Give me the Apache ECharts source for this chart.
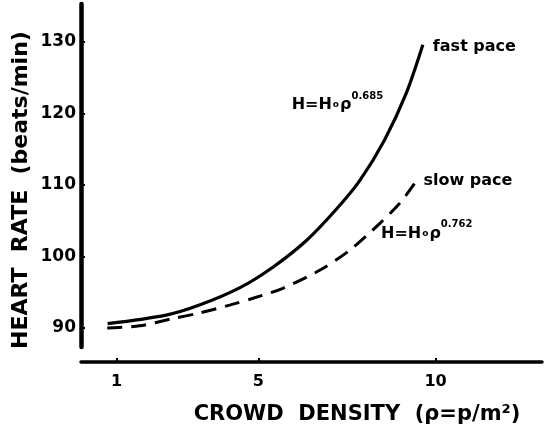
<!DOCTYPE html>
<html>
<head>
<meta charset="utf-8">
<script src="https://cdn.jsdelivr.net/npm/echarts@6/dist/echarts.min.js"></script>
<style>
  html, body { margin: 0; padding: 0; background: #fff; }
  #chart { width: 544px; height: 426px; }
</style>
</head>
<body>
<div id="chart"></div>
<script>
// Heart rate vs. crowd density, two walking paces
const fastDensity = [0.75, 2.4, 3.34, 4.47, 5.41, 6.35, 7.2, 7.86, 8.56, 9.17, 9.64];
const fastRate    = [90.6, 91.8, 93.2, 95.6, 98.5, 102.2, 106.6, 110.6, 116.3, 122.8, 129.6];
const slowDensity = [0.74, 1.65, 2.58, 3.34, 4.19, 4.85, 5.69, 6.73, 7.57, 8.42, 8.98, 9.46];
const slowRate    = [90.0, 90.3, 91.3, 92.1, 93.2, 94.15, 95.55, 98.07, 100.84, 104.6, 107.4, 110.6];
const xTicks = [1, 5, 10];
const yTicks = [90, 100, 110, 120, 130];
const seriesNames = ['fast pace', 'slow pace'];
const fastExponent = '0.685';
const slowExponent = '0.762';
const fastFormulaAt = [7.23, 121.6];
const slowFormulaAt = [9.75, 103.6];

const FONT = 'DejaVu Sans';
const pair = (xs, ys) => xs.map((x, i) => [x, ys[i]]);

const formulaRich = {
  m:   { fontFamily: FONT, fontWeight: 'bold', fontSize: 16, color: '#000', lineHeight: 22, verticalAlign: 'bottom' },
  o:   { fontFamily: FONT, fontWeight: 'bold', fontSize: 9,  color: '#000', lineHeight: 22, verticalAlign: 'bottom', padding: [0, 1, 4, 1] },
  sup: { fontFamily: FONT, fontWeight: 'bold', fontSize: 10, color: '#000', lineHeight: 22, verticalAlign: 'top' }
};
const formula = exp => '{m|H=H}{o|o}{m|ρ}{sup|' + exp + '}';

function formulaPoint(coord, exp) {
  return {
    symbol: 'circle',
    symbolSize: 1,
    silent: true,
    itemStyle: { color: 'rgba(0,0,0,0)' },
    label: { show: true, position: 'inside', formatter: formula(exp), rich: formulaRich },
    data: [{ coord: coord }]
  };
}

const chart = echarts.init(document.getElementById('chart'), null, { renderer: 'canvas' });
chart.setOption({
  backgroundColor: '#fff',
  animation: false,
  grid: { left: 81, right: 2, top: 4, bottom: 79 },
  xAxis: {
    type: 'value', min: 0, max: 13, offset: 15,
    splitLine: { show: false },
    axisLine: { show: true, lineStyle: { color: '#000', width: 3.5 } },
    axisTick: { show: true, inside: true, length: 4, customValues: xTicks, lineStyle: { color: '#000', width: 2 } },
    axisLabel: { customValues: xTicks, margin: 12, color: '#000', fontFamily: FONT, fontWeight: 'bold', fontSize: 16 }
  },
  yAxis: {
    type: 'value', min: 87.34, max: 135.31,
    splitLine: { show: false },
    axisLine: { show: true, lineStyle: { color: '#000', width: 4.5 } },
    axisTick: { show: true, inside: true, length: 4, customValues: yTicks, lineStyle: { color: '#000', width: 2 } },
    axisLabel: { customValues: yTicks, margin: 5, color: '#000', fontFamily: FONT, fontWeight: 'bold', fontSize: 17 }
  },
  graphic: [
    { type: 'text', x: 21, y: 190, rotation: Math.PI / 2,
      style: { text: 'HEART  RATE  (beats/min)', fill: '#000', font: 'bold 22px "DejaVu Sans"', textAlign: 'center', textVerticalAlign: 'middle' } },
    { type: 'text', x: 357, y: 415,
      style: { text: 'CROWD  DENSITY  (ρ=p/m²)', fill: '#000', font: 'bold 21px "DejaVu Sans"', textAlign: 'center', textVerticalAlign: 'middle' } }
  ],
  series: [
    {
      name: seriesNames[0], type: 'line', data: pair(fastDensity, fastRate),
      smooth: 0.3, symbol: 'none', lineStyle: { color: '#000', width: 3.2 },
      endLabel: { show: true, formatter: '{a}', distance: 10, offset: [0, 2], color: '#000', fontFamily: FONT, fontWeight: 'bold', fontSize: 16 },
      markPoint: formulaPoint(fastFormulaAt, fastExponent)
    },
    {
      name: seriesNames[1], type: 'line', data: pair(slowDensity, slowRate),
      smooth: 0.3, symbol: 'none', lineStyle: { color: '#000', width: 3, type: [15, 9] },
      endLabel: { show: true, formatter: '{a}', distance: 7, color: '#000', fontFamily: FONT, fontWeight: 'bold', fontSize: 16 },
      markPoint: formulaPoint(slowFormulaAt, slowExponent)
    }
  ]
});
</script>
</body>
</html>
